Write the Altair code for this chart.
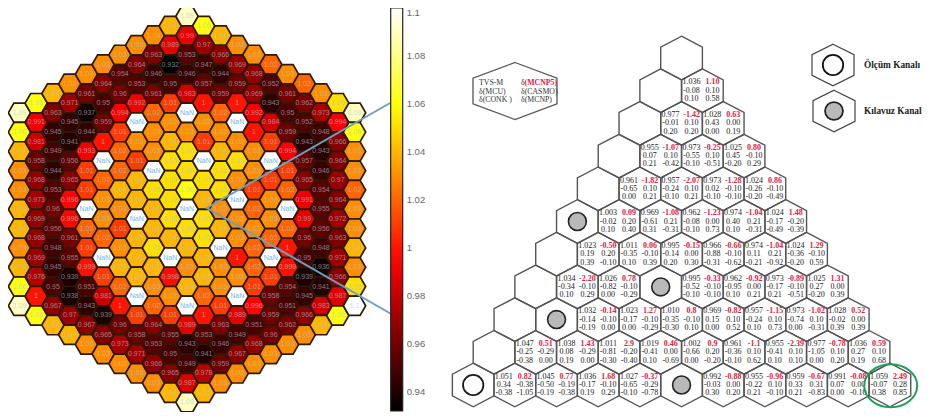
import altair as alt
import pandas as pd

# ---------- left map: pin power values per column, top to bottom (None = NaN cell) ----------
N = None
C00 = [1.09,1.06,1.04,1.03,1.03,1.04,1.04,1.03,1.04,1.06,1.09]
C01 = [1.06,0.991,0.981,0.958,0.968,0.973,0.969,0.968,0.969,0.976,1,1.06]
C02 = [1.04,0.963,0.945,0.949,0.944,0.953,0.96,0.956,0.948,0.945,0.95,0.967,1.04]
C03 = [1.03,0.971,0.945,0.941,0.956,0.965,0.996,0.996,0.961,0.955,0.939,0.938,0.97,1.04]
C04 = [1.03,0.961,0.937,0.944,0.993,1.01,1.01,N,1.02,1.01,0.999,0.951,0.943,0.967,1.03]
C05 = [1.03,0.964,0.95,0.959,1,N,1.02,1.03,1.03,1.02,N,1.01,0.981,0.939,0.965,1.03]
C06 = [1.03,0.954,0.96,0.994,1.01,1.02,1.02,1.04,1.03,1.01,1.03,1.04,1.02,1,0.96,0.973,1.03]
C07 = [1.03,0.964,0.953,0.992,N,1.03,1.01,1.04,1.04,N,1.04,1.04,1.04,N,1.01,0.958,0.971,1.03]
C08 = [1.03,0.963,0.946,0.961,1.02,1.03,1.03,N,1.05,1.04,1.04,1.05,1.04,1.03,1.02,0.964,0.953,0.966,1.03]
C09 = [1.04,0.989,0.932,0.95,1.01,1.03,1.04,1.05,1.05,1.05,1.05,1.04,N,0.998,1.03,1.01,0.955,0.95,0.965,1.04]
C10 = [1.09,0.99,0.953,0.946,0.983,N,1.03,1.05,1.05,1.06,N,1.05,1.04,1.03,1.04,N,0.989,0.943,0.949,0.987,1.09]
C11 = [1.06,0.97,0.947,0.957,1,1.03,1.01,N,1.05,1.04,1.05,1.05,1.04,1.04,1.02,1,0.953,0.941,0.978,1.04]
C12 = [1.04,0.966,0.944,0.959,1.02,1.03,1.04,1.05,1.05,1.03,1.04,N,1.03,1.03,1.01,0.963,0.946,0.959,1.03]
C13 = [1.03,0.969,0.959,1,N,1.03,1.05,1.03,N,1.03,1.03,1,1.03,N,0.989,0.949,0.967,1.03]
C14 = [1.03,0.968,0.969,0.992,1,1.03,1.03,1.01,1.02,1.03,1.02,1.02,1.01,0.996,0.951,0.968,1.03]
C15 = [1.02,0.952,0.943,0.984,1.01,N,1.01,1.03,1.03,1.02,N,1.01,0.958,0.959,0.96,1.03]
C16 = [1.03,0.961,0.95,0.959,0.994,1.01,1.02,N,1.02,1,0.999,0.954,0.951,0.962,1.03]
C17 = [1.02,0.962,0.952,0.943,0.957,0.965,0.991,0.99,0.96,0.95,0.939,0.945,0.966,1.03]
C18 = [1.03,0.973,0.948,0.943,0.946,0.954,0.955,0.956,0.948,0.936,0.941,0.983,1.04]
C19 = [1.05,0.994,0.966,0.964,0.97,0.964,0.972,0.963,0.971,0.966,0.987,1.06]
C20 = [1.09,1.06,1.03,1.03,1.02,1.03,1.03,1.04,1.03,1.05,1.1]
COLUMNS = [C00,C01,C02,C03,C04,C05,C06,C07,C08,C09,C10,C11,C12,C13,C14,C15,C16,C17,C18,C19,C20]

COLORBAR_TICKS = [1.1,1.08,1.06,1.04,1.02,1,0.98,0.96,0.94]
HOT_STOPS = [0.932,0.995,1.058,1.1]
HOT_COLORS = ["#000000","#ff0000","#ffff00","#ffffff"]

# ---------- right table: rows from the bottom. Cell = (TVS-M, MCNP5, MCU, CASMO, CONK, MCNP) ----------
E, M, G = "empty", "measure", "guide"
R0 = [M,("1.051","0.82","0.34","-0.38","-0.38","-1.05"),("1.045","0.77","-0.50","-0.19","-0.19","-0.38"),
      ("1.036","1.68","-0.17","-0.10","0.19","0.29"),("1.027","-0.37","-0.65","-0.29","-0.10","-0.78"),G,
      ("0.992","-0.88","-0.03","0.00","0.30","0.20"),("0.955","-0.96","-0.22","0.10","0.21","-0.10"),
      ("0.959","-0.67","0.33","0.31","0.21","-0.83"),("0.991","-0.08","0.07","0.00","0.00","-0.10"),
      ("1.059","2.49","-0.07","0.28","0.38","0.85")]
R1 = [E,("1.047","0.51","-0.25","-0.29","-0.38","0.00"),("1.038","1.43","0.08","-0.29","0.19","0.00"),
      ("1.011","2.9","-0.81","-0.20","-0.30","-0.40"),("1.019","0.46","-0.41","0.00","0.10","-0.69"),
      ("1.002","0.9","-0.66","0.20","0.00","-0.20"),("0.961","-1.1","-0.36","0.10","-0.10","0.62"),
      ("0.955","-2.39","-0.41","0.10","0.10","0.10"),("0.977","-0.78","-1.05","0.10","0.00","0.20"),
      ("1.036","0.59","0.27","0.10","0.19","0.68")]
R2 = [E,G,("1.032","-0.14","-0.14","-0.10","-0.19","0.00"),("1.023","1.27","-0.17","-0.10","0.00","-0.29"),
      ("1.010","0.8","-0.35","-0.10","-0.30","0.10"),("0.969","-0.82","0.15","0.10","0.00","0.52"),
      ("0.957","-1.15","-0.24","0.10","0.10","0.73"),("0.973","-1.02","-0.74","0.10","0.00","-0.31"),
      ("1.028","0.52","-0.02","0.00","0.39","0.39")]
R3 = [E,("1.034","-2.20","-0.34","-0.10","0.10","0.29"),("1.026","0.78","-0.82","-0.10","0.00","-0.29"),G,
      ("0.995","-0.33","-0.52","-0.10","-0.10","-0.10"),("0.962","-0.92","-0.95","0.00","0.10","0.21"),
      ("0.973","-0.89","-0.17","-0.10","0.21","-0.51"),("1.025","1.31","0.27","0.00","-0.20","0.39")]
R4 = [E,("1.023","-0.50","0.19","0.20","0.39","-0.10"),("1.011","0.06","-0.35","-0.10","0.10","0.39"),
      ("0.995","-0.15","-0.14","0.00","0.20","0.30"),("0.966","-0.66","-0.88","-0.10","-0.31","-0.62"),
      ("0.974","-1.04","0.11","0.21","-0.21","-0.92"),("1.024","1.29","-0.36","-0.10","-0.20","0.59")]
R5 = [G,("1.003","0.09","-0.02","0.20","0.10","0.40"),("0.969","-1.08","-0.61","0.21","0.31","-0.31"),
      ("0.962","-1.23","-0.08","0.00","-0.10","0.73"),("0.974","-1.04","0.40","0.21","0.10","-0.31"),
      ("1.024","1.48","-0.17","-0.20","-0.49","-0.39")]
R6 = [E,("0.961","-1.82","-0.65","0.10","0.00","0.21"),("0.957","-2.07","-0.24","0.10","-0.10","0.21"),
      ("0.973","-1.28","0.02","-0.10","-0.10","-0.10"),("1.024","0.86","-0.26","-0.10","-0.20","-0.49")]
R7 = [E,("0.955","-1.07","0.07","0.10","0.21","-0.42"),("0.973","-0.25","-0.55","0.10","-0.10","-0.51"),
      ("1.025","0.80","0.45","-0.10","-0.20","0.29")]
R8 = [E,("0.977","-1.42","-0.01","0.10","0.20","0.20"),("1.028","0.63","0.43","0.00","0.00","0.19")]
R9 = [E,("1.036","1.10","-0.08","0.10","0.10","0.58")]
R10 = [E]
ROWS = [R0,R1,R2,R3,R4,R5,R6,R7,R8,R9,R10]

KEY_LEFT = ["TVS-M","δ(MCU)","δ(CONK )"]
KEY_RIGHT = ["δ","δ(CASMO)","δ(MCNP)"]
KEY_RED = "(MCNP5)"
LEGEND_LABELS = ["Ölçüm Kanalı","Kılavuz Kanalı"]

# ---------- layout of the picture ----------
MAP_X0, MAP_DX, MAP_CY, MAP_DY = 19.5, 16.75, 209.3, 19.3
TAB_X0, TAB_DX, TAB_Y0, TAB_DY = 473.2, 41.67, 385, 32.7
CB_TOP, CB_LEN = 8, 403

map_rows = []
for k, col in enumerate(COLUMNS):
    n = len(col)
    for i, v in enumerate(col):
        map_rows.append(dict(x=MAP_X0 + k*MAP_DX, y=MAP_CY + (i-(n-1)/2)*MAP_DY, v=v,
                             label="NaN" if v is None else f"{v:.3f}".rstrip("0").rstrip(".")))
mp = pd.DataFrame(map_rows)
mp_val = mp[mp.v.notna()]
mp_nan = mp[mp.v.isna()]

hex_rows, text_rows, red_rows, open_rows, grey_rows = [], [], [], [], []
for r, row in enumerate(ROWS):
    for c, cell in enumerate(row):
        cx = TAB_X0 + (c + r/2)*TAB_DX
        cy = TAB_Y0 - r*TAB_DY
        hex_rows.append(dict(x=cx, y=cy))
        if cell == M:
            open_rows.append(dict(x=cx, y=cy))
        elif cell == G:
            grey_rows.append(dict(x=cx, y=cy))
        elif cell != E:
            tv, m5, mcu, cas, conk, mcnp = cell
            text_rows += [dict(x=cx-11, y=cy-8.3, t=tv), dict(x=cx-11, y=cy, t=mcu), dict(x=cx-11, y=cy+8.3, t=conk),
                          dict(x=cx+10, y=cy, t=cas), dict(x=cx+10, y=cy+8.3, t=mcnp)]
            red_rows.append(dict(x=cx+10, y=cy-8.3, t=m5))

px = pd.DataFrame

X = alt.X("x:Q", scale=alt.Scale(domain=[8, 922], nice=False, zero=False), axis=None)
Y = alt.Y("y:Q", scale=alt.Scale(domain=[412, 8], nice=False, zero=False), axis=None)

def hexpath(rx, ry, shoulder=0.5):
    return f"M0,{-ry}L{rx},{-ry*shoulder}L{rx},{ry*shoulder}L0,{ry}L{-rx},{ry*shoulder}L{-rx},{-ry*shoulder}Z"

MAP_R, MAP_H = 11.17, 9.67
MAP_HEX = f"M{-MAP_R},0L{-MAP_R/2},{-MAP_H}L{MAP_R/2},{-MAP_H}L{MAP_R},0L{MAP_R/2},{MAP_H}L{-MAP_R/2},{MAP_H}Z"
TAB_HEX = hexpath(20.83, 21.8)
KEY_HEX = hexpath(42, 28.5, 0.45)
LEG_HEX = hexpath(21, 20.8)
ELLIPSE = "M-26.5,0A26.5,21.5 0 1,0 26.5,0A26.5,21.5 0 1,0 -26.5,0Z"

map_fill = alt.Fill("v:Q",
    scale=alt.Scale(domain=HOT_STOPS, range=HOT_COLORS, interpolate="rgb", clamp=True),
    legend=alt.Legend(orient="none", legendX=382.7, legendY=CB_TOP-8, title=None, direction="vertical",
                      gradientLength=CB_LEN, gradientThickness=12, values=COLORBAR_TICKS, format=".3~g",
                      gradientStrokeColor="#222222", gradientStrokeWidth=1.2, labelFont="Liberation Sans",
                      labelFontSize=9.5, labelColor="#666666", labelOffset=4, labelOverlap=False))

layers = []
layers.append(alt.Chart(mp_val).mark_point(shape=MAP_HEX, size=4, filled=True, opacity=1, stroke="#2b1a08", strokeWidth=1.7)
              .encode(x=X, y=Y, fill=map_fill))
layers.append(alt.Chart(mp_nan).mark_point(shape=MAP_HEX, size=4, filled=True, opacity=1, fill="white", stroke="#2b1a08", strokeWidth=1.7)
              .encode(x=X, y=Y))
layers.append(alt.Chart(mp_val).mark_text(font="Liberation Sans", fontSize=7, color="#a9c8de", opacity=0.62)
              .encode(x=X, y=Y, text="label:N"))
layers.append(alt.Chart(mp_nan).mark_text(font="Liberation Sans", fontSize=7, color="#6fb8ea")
              .encode(x=X, y=Y, text="label:N"))

# blue leader lines from the centre of the map to the colour bar
leader = pd.DataFrame([dict(x=390, y=103, o=0), dict(x=207, y=208, o=1), dict(x=393, y=315, o=2)])
layers.append(alt.Chart(leader).mark_line(color="#6f9fc4", strokeWidth=2)
              .encode(x=X, y=Y, order="o:Q"))

# colour bar ticks
cb = pd.DataFrame([dict(x=399.5, x2=403, y=CB_TOP + (1.1-v)/(1.1-0.932)*CB_LEN) for v in COLORBAR_TICKS])
layers.append(alt.Chart(cb).mark_rule(color="#555555", strokeWidth=0.8).encode(x=X, x2="x2:Q", y=Y))

# right table
layers.append(alt.Chart(px(hex_rows)).mark_point(shape=TAB_HEX, size=4, filled=False, opacity=1, stroke="#555555", strokeWidth=1.4)
              .encode(x=X, y=Y))
layers.append(alt.Chart(px(open_rows)).mark_point(shape="circle", size=415, filled=False, opacity=1, stroke="#1a1a1a", strokeWidth=1.8)
              .encode(x=X, y=Y))
layers.append(alt.Chart(px(grey_rows)).mark_point(shape="circle", size=320, filled=True, opacity=1, fill="#b9b9b9", stroke="#222222", strokeWidth=1.6)
              .encode(x=X, y=Y))
layers.append(alt.Chart(px(text_rows)).mark_text(font="Liberation Serif", fontSize=8, color="#222222")
              .encode(x=X, y=Y, text="t:N"))
layers.append(alt.Chart(px(red_rows)).mark_text(font="Liberation Serif", fontSize=8, fontWeight="bold", color="#e0203f")
              .encode(x=X, y=Y, text="t:N"))

# key hexagon
layers.append(alt.Chart(pd.DataFrame([dict(x=515, y=91)])).mark_point(shape=KEY_HEX, size=4, filled=False, opacity=1, stroke="#555555", strokeWidth=1.3)
              .encode(x=X, y=Y))
key_y = [82.5, 91.5, 99.7]
key_txt = [dict(x=479, y=yy, t=t) for yy, t in zip(key_y, KEY_LEFT)] + [dict(x=521, y=yy, t=t) for yy, t in zip(key_y, KEY_RIGHT)]
layers.append(alt.Chart(px(key_txt)).mark_text(font="Liberation Serif", fontSize=7.8, align="left", color="#333333")
              .encode(x=X, y=Y, text="t:N"))
layers.append(alt.Chart(pd.DataFrame([dict(x=524.6, y=key_y[0], t=KEY_RED)])).mark_text(font="Liberation Serif", fontSize=7.8, fontWeight="bold", align="left", color="#e0203f")
              .encode(x=X, y=Y, text="t:N"))

# channel key on the right
layers.append(alt.Chart(pd.DataFrame([dict(x=833, y=65), dict(x=834, y=111)])).mark_point(shape=LEG_HEX, size=4, filled=False, opacity=1, stroke="#444444", strokeWidth=1.2)
              .encode(x=X, y=Y))
layers.append(alt.Chart(pd.DataFrame([dict(x=833, y=65)])).mark_point(shape="circle", size=415, filled=False, opacity=1, stroke="#111111", strokeWidth=1.8)
              .encode(x=X, y=Y))
layers.append(alt.Chart(pd.DataFrame([dict(x=834, y=111)])).mark_point(shape="circle", size=320, filled=True, opacity=1, fill="#b9b9b9", stroke="#222222", strokeWidth=1.8)
              .encode(x=X, y=Y))
layers.append(alt.Chart(pd.DataFrame([dict(x=864, y=65, t=LEGEND_LABELS[0]), dict(x=864, y=111, t=LEGEND_LABELS[1])]))
              .mark_text(font="Liberation Serif", fontSize=9.3, fontWeight="bold", align="left", color="#222222")
              .encode(x=X, y=Y, text="t:N"))

# green ring around the last cell
layers.append(alt.Chart(pd.DataFrame([dict(x=890.7, y=385.7)])).mark_point(shape=ELLIPSE, size=4, filled=False, opacity=1, stroke="#1f9e5a", strokeWidth=2)
              .encode(x=X, y=Y))

chart = (alt.layer(*layers)
         .properties(width=914, height=404, padding=0, autosize=alt.AutoSizeParams(type="none"))
         .configure_view(stroke=None))

chart.save("out.html", embed_options={"renderer": "svg", "actions": False})
